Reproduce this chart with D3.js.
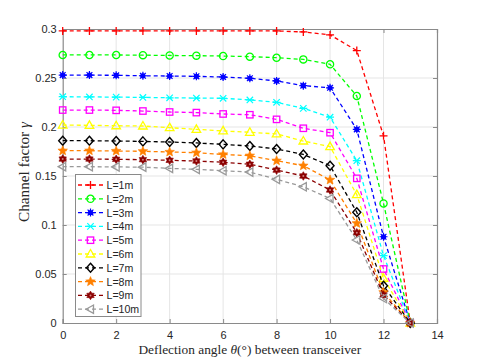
<!DOCTYPE html>
<html><head><meta charset="utf-8">
<script src="https://cdn.jsdelivr.net/npm/d3@7"></script>
<style>body{margin:0;background:#fff}svg{display:block}</style>
</head><body>
<svg id="c" width="485" height="363"></svg>
<script>
const angles = [0,1,2,3,4,5,6,7,8,9,10,11,12,13];
const seriesNames = ["L=1m","L=2m","L=3m","L=4m","L=5m","L=6m","L=7m","L=8m","L=9m","L=10m"];
const L1  = [0.298,0.298,0.298,0.298,0.298,0.298,0.298,0.298,0.298,0.297,0.294,0.278,0.191,0];
const L2  = [0.2735,0.2735,0.2735,0.2733,0.273,0.2728,0.2724,0.2718,0.2707,0.269,0.264,0.2316,0.122,0];
const L3  = [0.253,0.253,0.2527,0.2523,0.252,0.2517,0.251,0.2497,0.247,0.2422,0.240,0.1976,0.088,0];
const L4  = [0.2309,0.2307,0.2305,0.2302,0.2298,0.2295,0.2293,0.2276,0.2252,0.219,0.21,0.1656,0.0687,0];
const L5  = [0.2173,0.2173,0.217,0.2163,0.2153,0.2147,0.2133,0.2125,0.2078,0.1987,0.1942,0.1476,0.0551,0];
const L6  = [0.202,0.2017,0.2013,0.201,0.1993,0.1976,0.196,0.1946,0.1929,0.1857,0.180,0.131,0.0456,0];
const L7  = [0.186,0.186,0.1857,0.1853,0.1847,0.1837,0.1823,0.1806,0.1776,0.172,0.1605,0.113,0.038,0];
const L8  = [0.1758,0.1758,0.1755,0.1752,0.1745,0.1738,0.172,0.1707,0.1656,0.1605,0.146,0.1017,0.0313,0];
const L9  = [0.1673,0.1673,0.167,0.1667,0.166,0.1653,0.164,0.162,0.156,0.150,0.1357,0.0921,0.0286,0];
const L10 = [0.1595,0.1595,0.1593,0.159,0.1578,0.1568,0.1554,0.154,0.1466,0.139,0.127,0.0847,0.025,0];
const seriesValues = [L1,L2,L3,L4,L5,L6,L7,L8,L9,L10];
const colors = ["#ff0000","#00ff00","#0000ff","#00ffff","#ff00ff","#ffff00","#000000","#ff8000","#8b0000","#999999"];
const markers = ["plus","circle","blobstar","asterisk","square","triangle","diamond","pentagram","hexagram","tleft"];
const xTicks = [0,2,4,6,8,10,12,14];
const yTicks = [0,0.05,0.1,0.15,0.2,0.25,0.3];
const yTickLabels = ["0","0.05","0.1","0.15","0.2","0.25","0.3"];

const svg = d3.select("#c");
const L = 62.7, R = 437, T = 29, B = 323;
const x = d3.scaleLinear().domain([0,14]).range([L,R]);
const y = d3.scaleLinear().domain([0,0.3]).range([B,T]);
const axisCol = "#8a8a8a", txtCol = "#262626";

// grid
svg.append("g").selectAll("line").data(xTicks.slice(1,-1)).join("line")
  .attr("x1",d=>x(d)).attr("x2",d=>x(d)).attr("y1",T).attr("y2",B)
  .attr("stroke","#e5e5e5").attr("stroke-width",1);
svg.append("g").selectAll("line").data(yTicks.slice(1,-1)).join("line")
  .attr("y1",d=>y(d)).attr("y2",d=>y(d)).attr("x1",L).attr("x2",R)
  .attr("stroke","#e5e5e5").attr("stroke-width",1);

// axes
const fontSans = "'Liberation Sans', Arial, sans-serif";
const fontSerif = "'Liberation Serif','Times New Roman',serif";
const xAxisB = d3.axisBottom(x).tickValues(xTicks).tickSize(-4).tickPadding(8).tickFormat(d3.format("d"));
const xAxisT = d3.axisTop(x).tickValues(xTicks).tickSize(-4).tickFormat("");
const yAxisL = d3.axisLeft(y).tickValues(yTicks).tickSize(-4).tickPadding(6).tickFormat((d,i)=>yTickLabels[i]);
const yAxisR = d3.axisRight(y).tickValues(yTicks).tickSize(-4).tickFormat("");
function styleAxis(g){
  g.select(".domain").attr("stroke",axisCol).attr("stroke-width",1.2);
  g.selectAll(".tick line").attr("stroke",axisCol);
  g.selectAll(".tick text").attr("fill",txtCol).style("font-family",fontSans).style("font-size","11px");
}
svg.append("g").attr("transform",`translate(0,${B})`).call(xAxisB).call(styleAxis);
svg.append("g").attr("transform",`translate(0,${T})`).call(xAxisT).call(styleAxis);
svg.append("g").attr("transform",`translate(${L},0)`).call(yAxisL).call(styleAxis);
svg.append("g").attr("transform",`translate(${R},0)`).call(yAxisR).call(styleAxis);

// axis labels (font size fitted to the reference's text widths)
function fitText(t, target){
  const w = t.node().getComputedTextLength();
  const fs = parseFloat(t.style("font-size"));
  t.style("font-size", (fs*target/w).toFixed(2)+"px");
}
const xl = svg.append("text").attr("x",(L+R)/2).attr("y",354).attr("text-anchor","middle")
  .style("font-family",fontSerif).style("font-size","13px").attr("fill",txtCol)
  .html('Deflection angle <tspan font-style="italic">θ</tspan>(°) between transceiver');
fitText(xl, 223);
const yl = svg.append("text").attr("transform",`translate(29,${172}) rotate(-90)`).attr("text-anchor","middle")
  .style("font-family",fontSerif).style("font-size","13px").attr("fill",txtCol)
  .html('Channel factor <tspan font-style="italic">γ</tspan>');
fitText(yl, 100);

// marker drawing
function starPath(n, ro, ri){
  let p = [];
  for(let i=0;i<2*n;i++){
    const r = i%2===0?ro:ri;
    const a = -Math.PI/2 + i*Math.PI/n;
    p.push([r*Math.cos(a), r*Math.sin(a)]);
  }
  return "M"+p.map(q=>q[0].toFixed(2)+","+q[1].toFixed(2)).join("L")+"Z";
}
function drawMarker(g, type, col){
  switch(type){
    case "plus":
      g.append("path").attr("d","M-4,0H4M0,-4V4").attr("stroke",col).attr("stroke-width",1.3).attr("fill","none"); break;
    case "circle":
      g.append("circle").attr("r",3.6).attr("stroke",col).attr("stroke-width",1.3).attr("fill","none"); break;
    case "blobstar":
      g.append("circle").attr("r",2.6).attr("fill",col);
      g.append("path").attr("d","M-4,0H4M0,-4V4M-2.9,-2.9L2.9,2.9M-2.9,2.9L2.9,-2.9").attr("stroke",col).attr("stroke-width",1.2); break;
    case "asterisk":
      g.append("path").attr("d","M-3.2,-3.2L3.2,3.2M-3.2,3.2L3.2,-3.2M-4,0H4").attr("stroke",col).attr("stroke-width",1.2).attr("fill","none"); break;
    case "square":
      g.append("rect").attr("x",-3.2).attr("y",-3.2).attr("width",6.4).attr("height",6.4).attr("stroke",col).attr("stroke-width",1.3).attr("fill","none"); break;
    case "triangle":
      g.append("path").attr("d","M0,-4.5L4.3,3L-4.3,3Z").attr("stroke",col).attr("stroke-width",1.3).attr("fill","none"); break;
    case "diamond":
      g.append("path").attr("d","M0,-4.5L4,0L0,4.5L-4,0Z").attr("stroke",col).attr("stroke-width",1.4).attr("fill","none"); break;
    case "pentagram":
      g.append("path").attr("d",starPath(5,5,2.2)).attr("fill",col).attr("stroke",col).attr("stroke-width",0.6); break;
    case "hexagram":
      g.append("path").attr("d",starPath(6,4.3,2.6)).attr("fill",col).attr("stroke",col).attr("stroke-width",0.6);
      g.append("circle").attr("r",1).attr("fill","#d08080"); break;
    case "tleft":
      g.append("path").attr("d","M-4.5,0L3,-4.2L3,4.2Z").attr("stroke",col).attr("stroke-width",1.3).attr("fill","none"); break;
  }
}

// series
const line = d3.line().x((d,i)=>x(angles[i])).y(d=>y(d));
seriesValues.forEach((vals,k)=>{
  const g = svg.append("g");
  g.append("path").attr("d",line(vals)).attr("fill","none").attr("stroke",colors[k])
    .attr("stroke-width",1.3).attr("stroke-dasharray","4,3");
  vals.forEach((v,i)=>{
    const m = g.append("g").attr("transform",`translate(${x(angles[i])},${y(v)})`);
    drawMarker(m, markers[k], colors[k]);
  });
});

// legend
const lg = svg.append("g");
lg.append("rect").attr("x",75.5).attr("y",174.5).attr("width",65.5).attr("height",142)
  .attr("fill","#fff").attr("stroke","#8a8a8a").attr("stroke-width",1);
seriesNames.forEach((nm,k)=>{
  const yy = 185 + k*13.8;
  lg.append("line").attr("x1",78).attr("x2",103).attr("y1",yy).attr("y2",yy)
    .attr("stroke",colors[k]).attr("stroke-width",1.3).attr("stroke-dasharray","4,3");
  const m = lg.append("g").attr("transform",`translate(90.5,${yy})`);
  drawMarker(m, markers[k], colors[k]);
  lg.append("text").attr("x",106.5).attr("y",yy+4).text(nm)
    .style("font-family",fontSans).style("font-size","10.6px").attr("fill",txtCol);
});
</script>
</body></html>
